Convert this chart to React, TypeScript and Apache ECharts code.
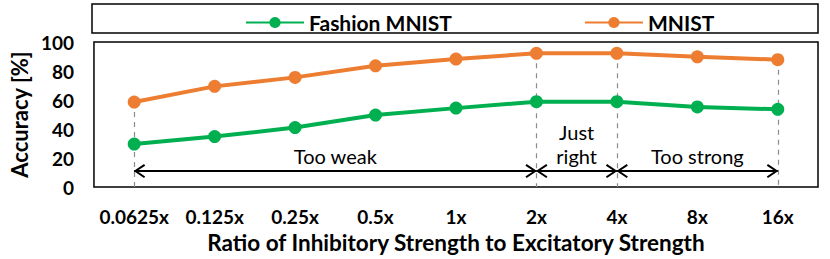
import React, { useEffect, useRef } from "react";
import * as echarts from "echarts";

const categories = ["0.0625x", "0.125x", "0.25x", "0.5x", "1x", "2x", "4x", "8x", "16x"];
const fashionMnist = [29.6, 34.8, 41, 49.6, 54.4, 58.8, 58.8, 55.2, 53.6];
const mnist = [58.6, 69.4, 75.6, 83.6, 88.2, 92.2, 92.2, 89.8, 87.8];
const dashedAt = ["0.0625x", "2x", "4x", "16x"];
const regions = [
  { from: "0.0625x", to: "2x", text: "Too weak" },
  { from: "2x", to: "4x", text: "Just\nright" },
  { from: "4x", to: "16x", text: "Too strong" },
];
const arrowLevel = 11;
const yTicks = { min: 0, max: 100, interval: 20 };

const FONT = "Lato";
// open chevron with its tip at the centre of the bounding box (dummy dot in front)
const chevron =
  "path://M7,0 L7.01,0 L7.01,0.01 Z M0,18 L7,9 L14,18 L12.4,19 L7,12 L1.6,19 Z";

export default function App() {
  const ref = useRef<HTMLDivElement>(null);
  useEffect(() => {
    if (!ref.current) return;
    const chart = echarts.init(ref.current, undefined, { renderer: "svg" });
    const idx = (c: string) => categories.indexOf(c);
    const dashed = dashedAt.map((c) => [
      { coord: [c, Math.max(mnist[idx(c)], fashionMnist[idx(c)])], symbol: "none" },
      { coord: [c, 0], symbol: "none" },
    ]);
    const arrows = regions.map((r) => [
      {
        coord: [r.from, arrowLevel],
        symbol: chevron,
        lineStyle: { color: "#000", type: "solid", width: 1.8 },
        label: {
          show: true,
          formatter: r.text,
          position: "middle",
          color: "#000",
          fontFamily: FONT,
          fontSize: 20,
          lineHeight: 24,
          distance: 3,
        },
      },
      { coord: [r.to, arrowLevel], symbol: chevron },
    ]);
    chart.setOption({
      animation: false,
      textStyle: { fontFamily: FONT },
      grid: {
        left: 92,
        right: 12,
        top: 42,
        bottom: 70,
        show: true,
        borderColor: "#000",
        borderWidth: 1.5,
        backgroundColor: "transparent",
      },
      graphic: [
        {
          type: "rect",
          shape: { x: 92, y: 4, width: 726, height: 29 },
          style: { fill: "none", stroke: "#000", lineWidth: 1.5 },
          z: 0,
        },
      ],
      legend: {
        data: ["Fashion MNIST", "MNIST"],
        left: 240,
        top: 7,
        itemWidth: 58,
        itemHeight: 14,
        itemGap: 132,
        textStyle: { fontFamily: FONT, fontWeight: "bold", fontSize: 21, color: "#000" },
      },
      xAxis: {
        type: "category",
        data: categories,
        boundaryGap: true,
        axisLine: { show: false },
        axisTick: { show: false },
        axisLabel: {
          color: "#000",
          fontFamily: FONT,
          fontWeight: "bold",
          fontSize: 19,
          margin: 20,
          interval: 0,
        },
        name: "Ratio of Inhibitory Strength to Excitatory Strength",
        nameLocation: "middle",
        nameGap: 44,
        nameTextStyle: { color: "#000", fontFamily: FONT, fontWeight: "bold", fontSize: 22.5 },
      },
      yAxis: {
        type: "value",
        min: yTicks.min,
        max: yTicks.max,
        interval: yTicks.interval,
        splitLine: { show: false },
        axisLine: { show: false },
        axisTick: { show: false },
        axisLabel: { color: "#000", fontFamily: FONT, fontWeight: "bold", fontSize: 19, margin: 20 },
        name: "Accuracy [%]",
        nameLocation: "middle",
        nameGap: 60,
        nameTextStyle: { color: "#000", fontFamily: FONT, fontWeight: "bold", fontSize: 22 },
      },
      series: [
        {
          name: "Fashion MNIST",
          type: "line",
          data: fashionMnist,
          symbol: "circle",
          symbolSize: 13,
          color: "#00B050",
          lineStyle: { width: 4, color: "#00B050" },
          itemStyle: { color: "#00B050" },
          z: 3,
          markLine: {
            silent: true,
            symbol: ["none", "none"],
            symbolSize: [14, 22],
            lineStyle: { color: "#000" },
            label: { show: false },
            data: arrows,
            z: 4,
          },
        },
        {
          name: "MNIST",
          type: "line",
          data: mnist,
          symbol: "circle",
          symbolSize: 13,
          color: "#ED7D31",
          lineStyle: { width: 4, color: "#ED7D31" },
          itemStyle: { color: "#ED7D31" },
          z: 3,
          markLine: {
            silent: true,
            symbol: ["none", "none"],
            lineStyle: { color: "#8C8C8C", type: [5, 5], width: 1.2 },
            label: { show: false },
            data: dashed,
            z: 1,
          },
        },
      ],
    });
    return () => chart.dispose();
  }, []);
  return <div ref={ref} style={{ width: 830, height: 259, position: "absolute", left: 0, top: 0 }} />;
}
